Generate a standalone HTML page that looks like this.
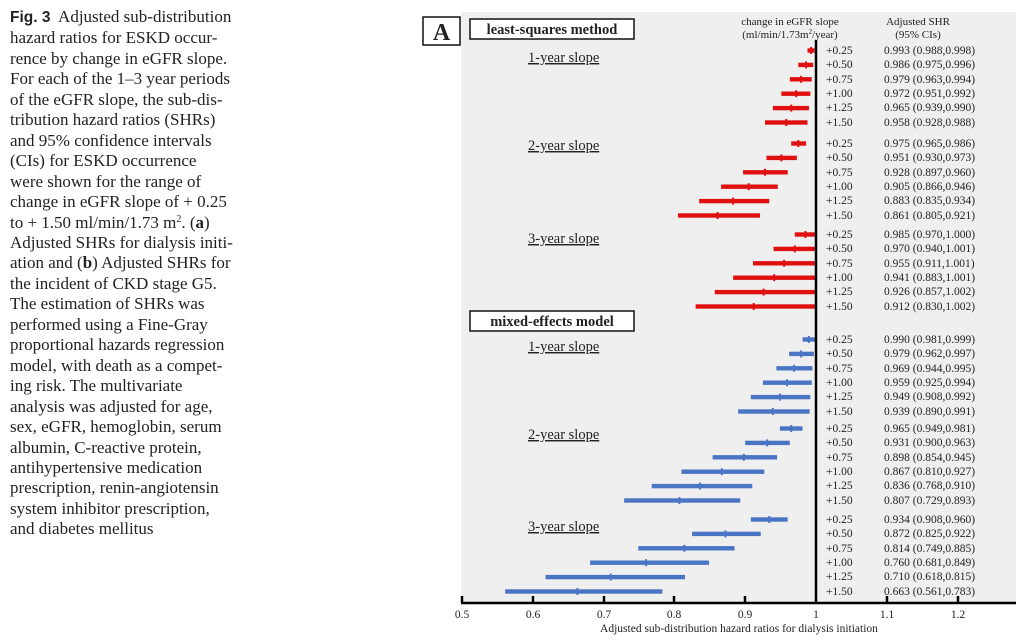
<!DOCTYPE html>
<html><head><meta charset="utf-8"><style>
body{margin:0;background:#fff;width:1024px;height:641px;overflow:hidden;font-family:"Liberation Serif",serif;}
#cap{position:absolute;left:10px;top:7px;width:300px;font-size:17px;line-height:20.45px;color:#222;}
#cap b.f{font-family:"Liberation Sans",sans-serif;font-weight:bold;font-size:15.5px;}
#cap sup{font-size:10px;line-height:0;vertical-align:6px}
svg{position:absolute;left:0;top:0}
</style></head><body>
<div id="cap"><b class="f">Fig. 3</b>&nbsp; Adjusted sub-distribution<br>hazard ratios for ESKD occur-<br>rence by change in eGFR slope.<br>For each of the 1–3 year periods<br>of the eGFR slope, the sub-dis-<br>tribution hazard ratios (SHRs)<br>and 95% confidence intervals<br>(CIs) for ESKD occurrence<br>were shown for the range of<br>change in eGFR slope of + 0.25<br>to + 1.50 ml/min/1.73 m<sup>2</sup>. (<b>a</b>)<br>Adjusted SHRs for dialysis initi-<br>ation and (<b>b</b>) Adjusted SHRs for<br>the incident of CKD stage G5.<br>The estimation of SHRs was<br>performed using a Fine-Gray<br>proportional hazards regression<br>model, with death as a compet-<br>ing risk. The multivariate<br>analysis was adjusted for age,<br>sex, eGFR, hemoglobin, serum<br>albumin, C-reactive protein,<br>antihypertensive medication<br>prescription, renin-angiotensin<br>system inhibitor prescription,<br>and diabetes mellitus</div>
<svg id="s" width="1024" height="641" font-family="Liberation Serif, serif" fill="#222">
<rect x="461" y="12" width="555" height="591" fill="#efefef"/>
<rect x="423" y="17" width="37" height="28" fill="#fff" stroke="#111" stroke-width="1.5"/>
<text x="441.5" y="40" font-size="24" font-weight="bold" text-anchor="middle">A</text>
<rect x="470" y="19" width="164" height="20" fill="#fff" stroke="#111" stroke-width="1.5"/>
<text x="552" y="34" font-size="14.5" font-weight="bold" text-anchor="middle">least-squares method</text>
<rect x="470" y="311" width="164" height="20" fill="#fff" stroke="#111" stroke-width="1.5"/>
<text x="552" y="326" font-size="14.5" font-weight="bold" text-anchor="middle">mixed-effects model</text>
<text x="790" y="25" font-size="11" text-anchor="middle">change in eGFR slope</text>
<text x="790" y="38" font-size="11" text-anchor="middle">(ml/min/1.73m<tspan font-size="7" dy="-4">2</tspan><tspan dy="4">/year)</tspan></text>
<text x="918" y="25" font-size="11" text-anchor="middle">Adjusted SHR</text>
<text x="918" y="38" font-size="11" text-anchor="middle">(95% CIs)</text>
<g font-size="14.5" text-decoration="underline">
<text x="528" y="62">1-year slope</text>
<text x="528" y="150">2-year slope</text>
<text x="528" y="243">3-year slope</text>
<text x="528" y="351">1-year slope</text>
<text x="528" y="439">2-year slope</text>
<text x="528" y="531">3-year slope</text>
</g>
<g id="bars"></g>
<g id="labs" font-size="11.5">
<text x="826" y="54">+0.25</text><text x="826" y="68">+0.50</text><text x="826" y="83">+0.75</text><text x="826" y="97">+1.00</text><text x="826" y="111">+1.25</text><text x="826" y="126">+1.50</text>
<text x="884" y="54">0.993 (0.988,0.998)</text><text x="884" y="68">0.986 (0.975,0.996)</text><text x="884" y="83">0.979 (0.963,0.994)</text><text x="884" y="97">0.972 (0.951,0.992)</text><text x="884" y="111">0.965 (0.939,0.990)</text><text x="884" y="126">0.958 (0.928,0.988)</text>
<text x="826" y="147">+0.25</text><text x="826" y="161">+0.50</text><text x="826" y="176">+0.75</text><text x="826" y="190">+1.00</text><text x="826" y="204">+1.25</text><text x="826" y="219">+1.50</text>
<text x="884" y="147">0.975 (0.965,0.986)</text><text x="884" y="161">0.951 (0.930,0.973)</text><text x="884" y="176">0.928 (0.897,0.960)</text><text x="884" y="190">0.905 (0.866,0.946)</text><text x="884" y="204">0.883 (0.835,0.934)</text><text x="884" y="219">0.861 (0.805,0.921)</text>
<text x="826" y="238">+0.25</text><text x="826" y="252">+0.50</text><text x="826" y="267">+0.75</text><text x="826" y="281">+1.00</text><text x="826" y="295">+1.25</text><text x="826" y="310">+1.50</text>
<text x="884" y="238">0.985 (0.970,1.000)</text><text x="884" y="252">0.970 (0.940,1.001)</text><text x="884" y="267">0.955 (0.911,1.001)</text><text x="884" y="281">0.941 (0.883,1.001)</text><text x="884" y="295">0.926 (0.857,1.002)</text><text x="884" y="310">0.912 (0.830,1.002)</text>
<text x="826" y="343">+0.25</text><text x="826" y="357">+0.50</text><text x="826" y="372">+0.75</text><text x="826" y="386">+1.00</text><text x="826" y="400">+1.25</text><text x="826" y="415">+1.50</text>
<text x="884" y="343">0.990 (0.981,0.999)</text><text x="884" y="357">0.979 (0.962,0.997)</text><text x="884" y="372">0.969 (0.944,0.995)</text><text x="884" y="386">0.959 (0.925,0.994)</text><text x="884" y="400">0.949 (0.908,0.992)</text><text x="884" y="415">0.939 (0.890,0.991)</text>
<text x="826" y="432">+0.25</text><text x="826" y="446">+0.50</text><text x="826" y="461">+0.75</text><text x="826" y="475">+1.00</text><text x="826" y="489">+1.25</text><text x="826" y="504">+1.50</text>
<text x="884" y="432">0.965 (0.949,0.981)</text><text x="884" y="446">0.931 (0.900,0.963)</text><text x="884" y="461">0.898 (0.854,0.945)</text><text x="884" y="475">0.867 (0.810,0.927)</text><text x="884" y="489">0.836 (0.768,0.910)</text><text x="884" y="504">0.807 (0.729,0.893)</text>
<text x="826" y="523">+0.25</text><text x="826" y="537">+0.50</text><text x="826" y="552">+0.75</text><text x="826" y="566">+1.00</text><text x="826" y="580">+1.25</text><text x="826" y="595">+1.50</text>
<text x="884" y="523">0.934 (0.908,0.960)</text><text x="884" y="537">0.872 (0.825,0.922)</text><text x="884" y="552">0.814 (0.749,0.885)</text><text x="884" y="566">0.760 (0.681,0.849)</text><text x="884" y="580">0.710 (0.618,0.815)</text><text x="884" y="595">0.663 (0.561,0.783)</text>
</g>
<line x1="816" y1="40" x2="816" y2="603" stroke="#000" stroke-width="2.5"/>
<line x1="461" y1="603" x2="1016" y2="603" stroke="#000" stroke-width="2.5"/>
<g stroke="#000" stroke-width="2.5">
<line x1="462" y1="596" x2="462" y2="603"/><line x1="533" y1="596" x2="533" y2="603"/><line x1="604" y1="596" x2="604" y2="603"/><line x1="674" y1="596" x2="674" y2="603"/><line x1="745" y1="596" x2="745" y2="603"/><line x1="887" y1="596" x2="887" y2="603"/><line x1="958" y1="596" x2="958" y2="603"/>
</g>
<g font-size="11.5" text-anchor="middle">
<text x="462" y="618">0.5</text><text x="533" y="618">0.6</text><text x="604" y="618">0.7</text><text x="674" y="618">0.8</text><text x="745" y="618">0.9</text><text x="816" y="618">1</text><text x="887" y="618">1.1</text><text x="958" y="618">1.2</text>
<text x="739" y="632">Adjusted sub-distribution hazard ratios for dialysis initiation</text>
</g>
</svg>
<script>
var X=function(v){return 462+(v-0.5)*708;};
var groups=[
[50.5,"#e01010",[[.993,.988,.998],[.986,.975,.996],[.979,.963,.994],[.972,.951,.992],[.965,.939,.990],[.958,.928,.988]]],
[143.5,"#e01010",[[.975,.965,.986],[.951,.930,.973],[.928,.897,.960],[.905,.866,.946],[.883,.835,.934],[.861,.805,.921]]],
[234.5,"#e01010",[[.985,.970,1.0],[.970,.940,1.0],[.955,.911,1.0],[.941,.883,1.0],[.926,.857,1.0],[.912,.830,1.0]]],
[339.5,"#4a74c4",[[.990,.981,.999],[.979,.962,.997],[.969,.944,.995],[.959,.925,.994],[.949,.908,.992],[.939,.890,.991]]],
[428.5,"#4a74c4",[[.965,.949,.981],[.931,.900,.963],[.898,.854,.945],[.867,.810,.927],[.836,.768,.910],[.807,.729,.893]]],
[519.5,"#4a74c4",[[.934,.908,.960],[.872,.825,.922],[.814,.749,.885],[.760,.681,.849],[.710,.618,.815],[.663,.561,.783]]]];
var h="";
groups.forEach(function(g){g[2].forEach(function(d,i){var y=g[0]+i*14.4;
h+='<rect x="'+X(d[1])+'" y="'+(y-2.2)+'" width="'+(X(d[2])-X(d[1]))+'" height="4.4" fill="'+g[1]+'"/>';
h+='<rect x="'+(X(d[0])-1)+'" y="'+(y-3.5)+'" width="2" height="7" fill="'+g[1]+'"/>';});});
document.getElementById("bars").innerHTML=h;
</script>
</body></html>
